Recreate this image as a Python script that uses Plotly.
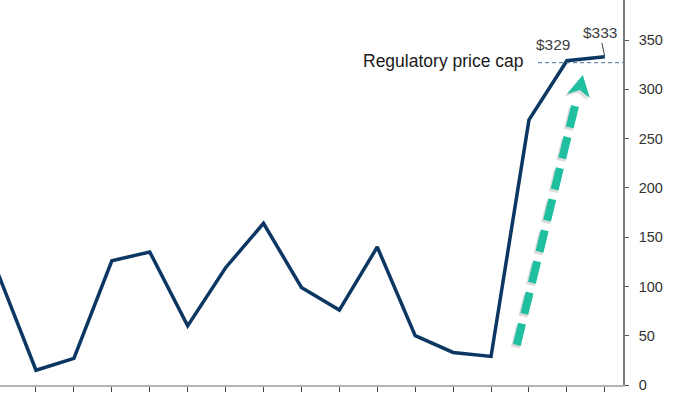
import plotly.graph_objects as go

# ---- data ----
periods = list(range(17))
prices = [113, 15, 27, 126, 135, 60, 119, 164, 99, 76, 140, 50, 33, 29, 269, 329, 333]
price_cap = 327
label_329 = "$329"
label_333 = "$333"
cap_label = "Regulatory price cap"
ytick_vals = [0, 50, 100, 150, 200, 250, 300, 350]

X_RANGE = [0.051, 16.48]
Y_RANGE = [0, 390.6]

# pixel -> data helpers for decoration placement
PX_PER_X = 37.93
PX_PER_Y = 0.9857

fig = go.Figure()

fig.add_trace(go.Scatter(
    x=periods, y=prices, mode="lines",
    line=dict(color="#0c3763", width=3.5),
    hoverinfo="skip", showlegend=False,
))

# teal trend arrow (shaft)
ax0, ay0 = 13.68, 40.6
ax1, ay1 = 15.27, 292
shapes = []
# soft shadow
shapes.append(dict(type="line", xref="x", yref="y",
                   x0=ax0 - 1.5 / PX_PER_X, y0=ay0 - 2.5 / PX_PER_Y,
                   x1=ax1 - 1.5 / PX_PER_X, y1=ay1 - 2.5 / PX_PER_Y,
                   line=dict(color="rgba(90,90,90,0.22)", width=9, dash="22px,10px"),
                   layer="below"))
shapes.append(dict(type="line", xref="x", yref="y",
                   x0=ax0, y0=ay0, x1=ax1, y1=ay1,
                   line=dict(color="#1fbf9f", width=8, dash="22px,10px")))
# arrow head (pixel-sized path anchored at tip)
tip_x, tip_y = 15.42, 314.5
shapes.append(dict(type="path", xref="x", yref="y",
                   xsizemode="pixel", ysizemode="pixel",
                   xanchor=tip_x, yanchor=tip_y - 2.5 / PX_PER_Y,
                   path="M -1.5 0 L -18 -19 L -5 -15 L 5 -23 Z",
                   fillcolor="rgba(90,90,90,0.22)", line=dict(width=0), layer="below"))
shapes.append(dict(type="path", xref="x", yref="y",
                   xsizemode="pixel", ysizemode="pixel",
                   xanchor=tip_x, yanchor=tip_y,
                   path="M 0 0 L -16 -19 L -3 -15 L 7 -23 Z",
                   fillcolor="#1fbf9f", line=dict(width=0)))

# regulatory price cap dashed line
cap_x0 = 14.24
shapes.append(dict(type="line", xref="x", yref="y",
                   x0=cap_x0, y0=price_cap, x1=X_RANGE[1], y1=price_cap,
                   line=dict(color="#4a6d95", width=1, dash="4px,3px")))

annotations = [
    dict(x=cap_x0, y=price_cap, xref="x", yref="y", text=cap_label,
         showarrow=False, xanchor="right", yanchor="middle", xshift=-12, yshift=2,
         font=dict(family="Liberation Sans, Arial", size=17.5, color="#1a1a1a")),
    dict(x=15, y=329, xref="x", yref="y", text=label_329, showarrow=False,
         xanchor="center", yanchor="middle", xshift=-14, yshift=16,
         font=dict(family="Liberation Sans, Arial", size=15.5, color="#404040")),
    dict(x=16, y=333, xref="x", yref="y", text=label_333, showarrow=True,
         ax=-5, ay=-24, arrowhead=0, arrowwidth=1, arrowcolor="#404040", standoff=1,
         font=dict(family="Liberation Sans, Arial", size=15.5, color="#404040")),
]

fig.update_layout(
    width=700, height=394,
    margin=dict(l=0, r=77, t=0, b=9),
    paper_bgcolor="white", plot_bgcolor="white",
    shapes=shapes, annotations=annotations,
    showlegend=False,
    xaxis=dict(range=X_RANGE, showgrid=False, zeroline=False,
               showline=True, linecolor="#b4b4b4", linewidth=2,
               ticks="outside", ticklen=5, tickwidth=1, tickcolor="#444444",
               tickvals=periods, showticklabels=False),
    yaxis=dict(range=Y_RANGE, side="right", showgrid=False, zeroline=False,
               showline=True, linecolor="#7a7a7a", linewidth=1.5,
               ticks="outside", ticklen=4, tickwidth=1, tickcolor="#555555",
               tickvals=ytick_vals, ticklabelstandoff=7,
               tickfont=dict(family="Liberation Sans, Arial", size=14.5, color="#333333")),
)

fig.write_html("out.html", config={"displayModeBar": False},
               post_script="document.body.style.margin='0';document.body.style.overflow='hidden';")
